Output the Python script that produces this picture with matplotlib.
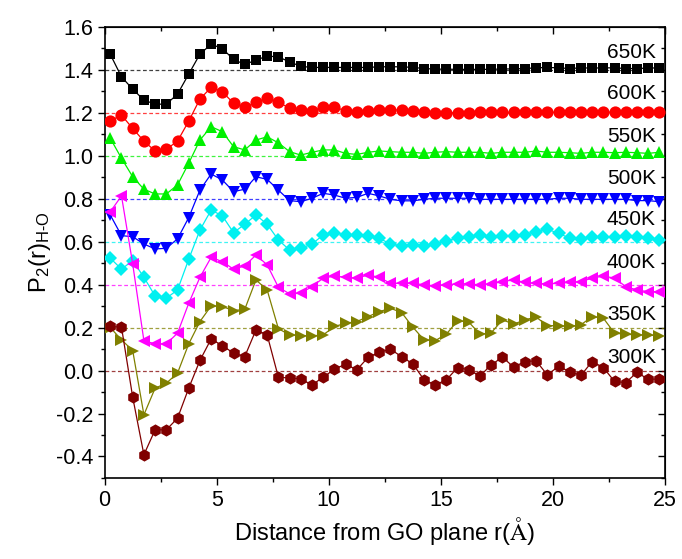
import numpy as np
import matplotlib
matplotlib.use("Agg")
import matplotlib.pyplot as plt
from matplotlib.ticker import MultipleLocator, FormatStrFormatter

plt.rcParams["font.family"] = ["Liberation Sans", "DejaVu Sans"]
plt.rcParams["mathtext.fontset"] = "stix"

# distance from GO plane (Å), bin centres
r = np.arange(0.25, 25.0, 0.5)

p2_650 = [1.472, 1.367, 1.310, 1.259, 1.240, 1.240, 1.287, 1.380, 1.473, 1.519,
          1.499, 1.448, 1.425, 1.445, 1.464, 1.460, 1.437, 1.416, 1.411, 1.411,
          1.411, 1.411, 1.411, 1.411, 1.414, 1.414, 1.414, 1.411, 1.406, 1.403,
          1.403, 1.402, 1.402, 1.402, 1.402, 1.404, 1.404, 1.406, 1.409, 1.411,
          1.409, 1.406, 1.409, 1.408, 1.409, 1.409, 1.406, 1.406, 1.408, 1.409]
p2_600 = [1.163, 1.189, 1.127, 1.068, 1.022, 1.030, 1.068, 1.161, 1.264, 1.318,
          1.298, 1.244, 1.225, 1.248, 1.267, 1.251, 1.220, 1.212, 1.210, 1.225,
          1.225, 1.210, 1.205, 1.207, 1.213, 1.213, 1.213, 1.207, 1.203, 1.200,
          1.200, 1.200, 1.200, 1.203, 1.203, 1.202, 1.202, 1.203, 1.203, 1.202,
          1.202, 1.203, 1.202, 1.202, 1.203, 1.202, 1.202, 1.203, 1.203, 1.205]
p2_550 = [1.081, 0.988, 0.902, 0.844, 0.822, 0.822, 0.864, 0.965, 1.073, 1.135,
          1.112, 1.042, 1.027, 1.073, 1.088, 1.060, 1.019, 1.003, 1.016, 1.027,
          1.027, 1.011, 1.006, 1.016, 1.022, 1.019, 1.016, 1.016, 1.011, 1.016,
          1.019, 1.016, 1.016, 1.016, 1.011, 1.016, 1.016, 1.016, 1.022, 1.016,
          1.016, 1.014, 1.011, 1.016, 1.016, 1.014, 1.016, 1.014, 1.011, 1.016]
p2_500 = [0.724, 0.628, 0.623, 0.589, 0.566, 0.569, 0.613, 0.712, 0.840, 0.915,
          0.887, 0.833, 0.844, 0.902, 0.890, 0.840, 0.791, 0.786, 0.802, 0.825,
          0.817, 0.802, 0.806, 0.825, 0.813, 0.797, 0.790, 0.790, 0.797, 0.802,
          0.802, 0.802, 0.802, 0.797, 0.797, 0.797, 0.797, 0.797, 0.797, 0.797,
          0.802, 0.802, 0.797, 0.797, 0.797, 0.797, 0.797, 0.791, 0.791, 0.786]
p2_450 = [0.523, 0.472, 0.512, 0.434, 0.347, 0.337, 0.375, 0.518, 0.654, 0.747,
          0.720, 0.642, 0.681, 0.724, 0.681, 0.608, 0.561, 0.569, 0.589, 0.631,
          0.642, 0.631, 0.631, 0.626, 0.616, 0.589, 0.580, 0.585, 0.580, 0.589,
          0.605, 0.616, 0.623, 0.631, 0.623, 0.626, 0.624, 0.633, 0.647, 0.658,
          0.639, 0.616, 0.614, 0.620, 0.620, 0.623, 0.626, 0.623, 0.616, 0.608]
p2_400 = [0.739, 0.813, 0.496, 0.139, 0.124, 0.124, 0.174, 0.313, 0.434, 0.527,
          0.507, 0.472, 0.487, 0.538, 0.492, 0.388, 0.357, 0.360, 0.391, 0.430,
          0.440, 0.434, 0.430, 0.445, 0.434, 0.406, 0.406, 0.406, 0.399, 0.394,
          0.399, 0.403, 0.403, 0.399, 0.403, 0.414, 0.422, 0.410, 0.406, 0.403,
          0.406, 0.410, 0.414, 0.430, 0.440, 0.430, 0.391, 0.375, 0.367, 0.367]
p2_350 = [0.200, 0.143, 0.093, -0.206, -0.082, -0.059, -0.012, 0.124, 0.228, 0.301,
          0.298, 0.279, 0.285, 0.422, 0.375, 0.195, 0.166, 0.163, 0.161, 0.166,
          0.205, 0.220, 0.228, 0.251, 0.274, 0.290, 0.270, 0.202, 0.143, 0.139,
          0.170, 0.232, 0.225, 0.169, 0.176, 0.236, 0.216, 0.236, 0.249, 0.209,
          0.209, 0.205, 0.213, 0.251, 0.244, 0.174, 0.169, 0.166, 0.165, 0.162]
p2_300 = [0.205, 0.202, -0.124, -0.392, -0.276, -0.276, -0.222, -0.082, 0.047, 0.147,
          0.116, 0.081, 0.065, 0.189, 0.166, -0.031, -0.035, -0.039, -0.067, -0.031,
          0.006, 0.030, 0.003, 0.061, 0.085, 0.099, 0.065, 0.031, -0.043, -0.067,
          -0.043, 0.014, 0.003, -0.025, 0.027, 0.062, 0.016, 0.042, 0.045, -0.020,
          0.019, -0.005, -0.023, 0.042, 0.014, -0.051, -0.056, -0.009, -0.040, -0.040]

temps = ["650K", "600K", "550K", "500K", "450K", "400K", "350K", "300K"]
baselines = [1.4, 1.2, 1.0, 0.8, 0.6, 0.4, 0.2, 0.0]
series = [p2_650, p2_600, p2_550, p2_500, p2_450, p2_400, p2_350, p2_300]

colors = ["#000000", "#ff0000", "#00f000", "#0000ff", "#00f0f0", "#ff00ff", "#808000", "#800000"]
markers = ["s", "o", "^", "v", "D", "<", ">", "h"]
msizes = [7.8, 8.8, 8.8, 8.8, 7.2, 8.8, 8.8, 8.8]
label_y = [1.482, 1.291, 1.090, 0.895, 0.701, 0.502, 0.259, 0.062]

fig = plt.figure(figsize=(6.82, 5.59), dpi=100)
ax = fig.add_axes([0.1535, 0.145, 0.8215, 0.807])

for base, col in zip(baselines, colors):
    ax.axhline(base, color=col, lw=0.9, ls=(0, (3, 2)), alpha=0.75, zorder=1)

for i, (vals, col, mk, ms) in enumerate(zip(series, colors, markers, msizes)):
    ax.plot(r, vals, color=col, lw=0.9, marker=mk, markersize=ms,
            markeredgewidth=0, zorder=2 + i)

for t, y in zip(temps, label_y):
    ax.text(24.6, y, t, ha="right", va="center", fontsize=15, zorder=20)

ax.set_xlim(0, 25)
ax.set_ylim(-0.5, 1.6)
ax.xaxis.set_major_locator(MultipleLocator(5))
ax.xaxis.set_minor_locator(MultipleLocator(2.5))
ax.yaxis.set_major_locator(MultipleLocator(0.2))
ax.yaxis.set_minor_locator(MultipleLocator(0.1))
ax.yaxis.set_major_formatter(FormatStrFormatter("%.1f"))
ax.tick_params(which="major", direction="out", length=5, width=1, labelsize=15.5)
ax.tick_params(which="minor", direction="out", length=3, width=1)
for sp in ax.spines.values():
    sp.set_linewidth(1.2)

# mirrored inward ticks on top and right
top = ax.secondary_xaxis("top")
top.xaxis.set_major_locator(MultipleLocator(5))
top.xaxis.set_minor_locator(MultipleLocator(2.5))
top.tick_params(which="major", direction="in", length=5, width=1, labeltop=False)
top.tick_params(which="minor", direction="in", length=3, width=1)
right = ax.secondary_yaxis("right")
right.yaxis.set_major_locator(MultipleLocator(0.2))
right.yaxis.set_minor_locator(MultipleLocator(0.1))
right.tick_params(which="major", direction="in", length=5, width=1, labelright=False)
right.tick_params(which="minor", direction="in", length=3, width=1)

ax.set_xlabel(r"Distance from GO plane r($\mathrm{\AA}$)", fontsize=17, labelpad=3)
ax.set_ylabel(r"P$_\mathregular{2}$(r)$_\mathregular{H\text{-}O}$", fontsize=17, labelpad=2)

fig.savefig("out.png", dpi=100)
